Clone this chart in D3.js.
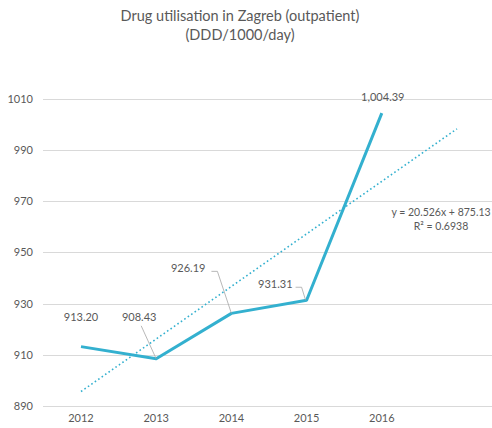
<!DOCTYPE html>
<html>
<head>
<meta charset="utf-8">
<script src="https://cdn.jsdelivr.net/npm/d3@7"></script>
<style>
body { margin: 0; background: #fff; }
text { font-family: Lato, "Open Sans", sans-serif; fill: #595959; }
</style>
</head>
<body>
<script>
//chart data
var years = ["2012", "2013", "2014", "2015", "2016"];
var values = [913.20, 908.43, 926.19, 931.31, 1004.39];
var labels = ["913.20", "908.43", "926.19", "931.31", "1,004.39"];
var yTicks = [890, 910, 930, 950, 970, 990, 1010];
//trendline y = 20.526x + 875.13, drawn over 6 periods (one forecast)
var trendSlope = 20.526, trendIntercept = 875.13;
var trendPeriods = [1, 2, 3, 4, 5, 6];

var w = 492, h = 428;
var color = "#33b0cf";

var svg = d3.select("body")
    .append("svg")
    .attr("width", w)
    .attr("height", h);

//six slots: five years plus the forecast one
var x = d3.scaleBand()
    .domain(years.concat(["f"]))
    .range([43.4, 494.6]);

var y = d3.scaleLinear()
    .domain([890, 1010])
    .range([406, 98.8]);

//gridlines
svg.selectAll(".grid")
    .data(yTicks)
    .enter()
    .append("line")
    .attr("x1", 43)
    .attr("x2", w)
    .attr("y1", function(d){ return Math.round(y(d)) + 0.5; })
    .attr("y2", function(d){ return Math.round(y(d)) + 0.5; })
    .style("stroke", "#d9d9d9")
    .style("stroke-width", 1);

//y axis labels
var yAxis = d3.axisLeft(y)
    .tickValues(yTicks)
    .tickFormat(d3.format("d"))
    .tickSize(0)
    .tickPadding(0);

svg.append("g")
    .attr("transform", "translate(33,0)")
    .call(yAxis)
    .call(function(g){ g.select(".domain").remove(); })
    .selectAll("text")
    .style("font-size", "11px")
    .style("fill", "#595959")
    .style("font-family", "Lato, 'Open Sans', sans-serif");

//x axis labels
var xAxis = d3.axisBottom(x)
    .tickValues(years)
    .tickSize(0)
    .tickPadding(0);

svg.append("g")
    .attr("transform", "translate(0,414)")
    .call(xAxis)
    .call(function(g){ g.select(".domain").remove(); })
    .selectAll("text")
    .style("font-size", "11px")
    .style("fill", "#595959")
    .style("font-family", "Lato, 'Open Sans', sans-serif");

function cx(i){ return x.bandwidth() / 2 + x(x.domain()[i]); }

//trendline
var trend = d3.line()
    .x(function(d){ return cx(d - 1); })
    .y(function(d){ return y(trendSlope * d + trendIntercept); });

svg.append("path")
    .datum(trendPeriods)
    .attr("d", trend)
    .style("fill", "none")
    .style("stroke", color)
    .style("stroke-width", 1.6)
    .style("stroke-dasharray", "1.6,2.6");

//data line
var line = d3.line()
    .x(function(d, i){ return cx(i); })
    .y(function(d){ return y(d); });

svg.append("path")
    .datum(values)
    .attr("d", line)
    .style("fill", "none")
    .style("stroke", color)
    .style("stroke-width", 3)
    .style("stroke-linejoin", "round");

//label offsets relative to each point (text anchor point), leader lines where excel moved them
var labelPos = [
    {dx: 0, dy: -26, anchor: "middle", leader: null},
    {dx: -17, dy: -38, anchor: "middle", leader: [[-15, -33], [0, 0]]},
    {dx: -26, dy: -41, anchor: "end", leader: [[-20, -42], [-14, -42], [0, 0]]},
    {dx: -14, dy: -12, anchor: "end", leader: [[-11, -13], [-5, -13], [-1, 0]]},
    {dx: 1, dy: -12, anchor: "middle", leader: null}
];

//leader lines
svg.selectAll(".leader")
    .data(values)
    .enter()
    .filter(function(d, i){ return labelPos[i].leader; })
    .append("polyline")
    .attr("points", function(d){
        var i = values.indexOf(d);
        return labelPos[i].leader.map(function(p){
            return (cx(i) + p[0]) + "," + (y(d) + p[1]);
        }).join(" ");
    })
    .style("fill", "none")
    .style("stroke", "#a6a6a6")
    .style("stroke-width", 0.8);

//data labels
svg.selectAll(".dlabel")
    .data(values)
    .enter()
    .append("text")
    .attr("x", function(d, i){ return cx(i) + labelPos[i].dx; })
    .attr("y", function(d, i){ return y(d) + labelPos[i].dy; })
    .attr("text-anchor", function(d, i){ return labelPos[i].anchor; })
    .style("font-size", "11px")
    .text(function(d, i){ return labels[i]; });

//trendline equation
var eq = svg.append("text")
    .attr("x", 441)
    .attr("y", 216)
    .attr("text-anchor", "middle")
    .style("font-size", "10.5px");
eq.append("tspan").attr("x", 441).text("y = 20.526x + 875.13");
eq.append("tspan").attr("x", 441).attr("dy", 14).text("R\u00b2 = 0.6938");

//title
var title = svg.append("text")
    .attr("x", 240)
    .attr("y", 21)
    .attr("text-anchor", "middle")
    .style("font-size", "14.5px");
title.append("tspan").attr("x", 240).text("Drug utilisation in Zagreb (outpatient)");
title.append("tspan").attr("x", 240).attr("dy", 19).text("(DDD/1000/day)");
</script>
</body>
</html>
